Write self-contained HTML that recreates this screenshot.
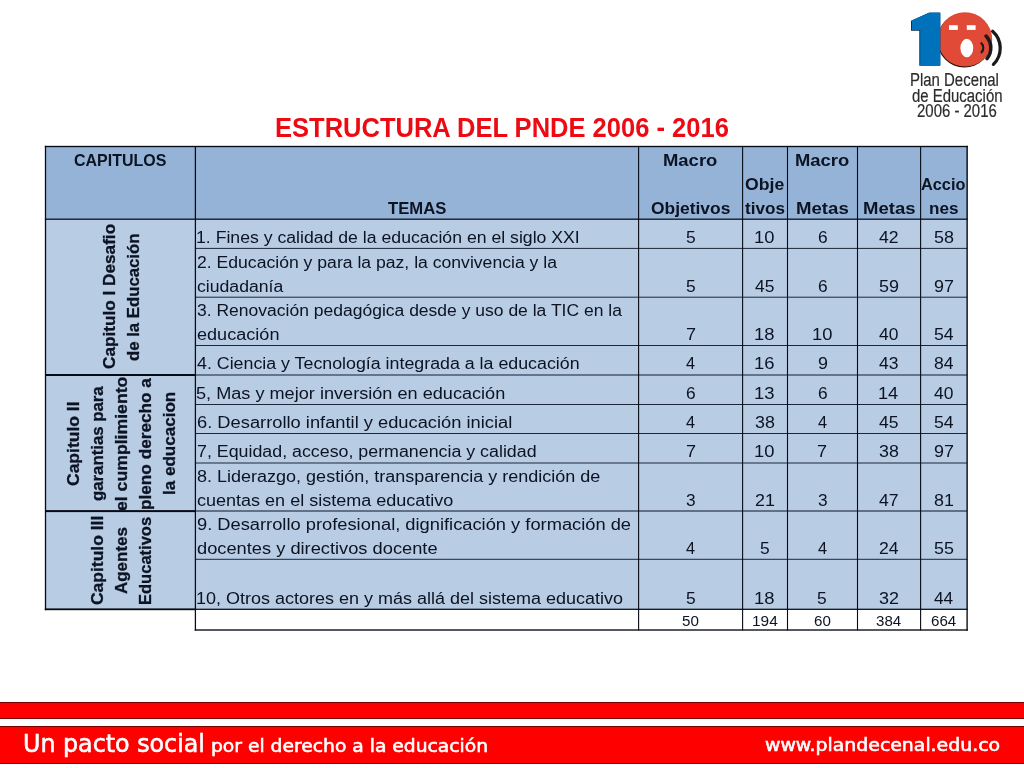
<!DOCTYPE html>
<html lang="es">
<head>
<meta charset="utf-8">
<title>Estructura del PNDE 2006 - 2016</title>
<style>
*{box-sizing:border-box}
html,body{margin:0;padding:0}
body{width:1024px;height:768px;overflow:hidden;background:#fff;position:relative;font-family:"Liberation Sans",sans-serif}
.slide{position:absolute;left:0;top:0;width:1024px;height:768px;overflow:hidden;background:transparent;will-change:transform}
.t{position:absolute;white-space:pre;line-height:1;transform-origin:0 0;display:block}
.title{font-weight:bold;color:#ee0a12}
.th,.ch{font-weight:bold;color:#0c1322}
.ch{-webkit-text-stroke:0.3px #0c1322}
.td,.num,.tot{color:#0c1322}
.lg{color:#2c2c2c;-webkit-text-stroke:0.2px #2c2c2c}
.ft{z-index:5;color:#fff;-webkit-text-stroke:0.6px #fff;font-family:"DejaVu Sans","Liberation Sans",sans-serif}
.cell{position:absolute}
.hd{background:#95b3d7}
.bd{background:#b8cce4}
.grid,.logo{position:absolute;left:0;top:0}
.bar{position:absolute;left:-1px;width:1024px;background:#fe0000;border:1px solid #7a0000}
</style>
</head>
<body>
<div class="slide">
<div class="tablebg">
<div class="cell hd" style="left:45px;top:146px;width:923px;height:73px"></div>
<div class="cell bd" style="left:45px;top:219px;width:923px;height:390px"></div>
</div>
<svg class="grid" width="1024" height="768" viewBox="0 0 1024 768"><rect x="195.4" y="247.90" width="771.70" height="1.0" fill="#1d2739"/><rect x="195.4" y="296.70" width="771.70" height="1.0" fill="#1d2739"/><rect x="195.4" y="345.00" width="771.70" height="1.0" fill="#1d2739"/><rect x="195.4" y="404.00" width="771.70" height="1.0" fill="#1d2739"/><rect x="195.4" y="433.00" width="771.70" height="1.0" fill="#1d2739"/><rect x="195.4" y="462.50" width="771.70" height="1.0" fill="#1d2739"/><rect x="195.4" y="558.80" width="771.70" height="1.0" fill="#1d2739"/><rect x="195.4" y="374.35" width="771.70" height="1.3" fill="#3a465c"/><rect x="195.4" y="510.45" width="771.70" height="1.1" fill="#1d2739"/><rect x="45.5" y="374.00" width="149.90" height="2.0" fill="#070b15"/><rect x="45.5" y="510.10" width="149.90" height="2.0" fill="#070b15"/><rect x="44.9" y="218.57" width="922.80" height="1.25" fill="#070b15"/><rect x="44.8" y="145.82" width="923.00" height="1.35" fill="#070b15"/><rect x="44.8" y="608.40" width="150.60" height="1.8" fill="#070b15"/><rect x="195.4" y="608.67" width="772.30" height="1.25" fill="#070b15"/><rect x="194.70000000000002" y="629.33" width="773.10" height="1.35" fill="#070b15"/><rect x="44.85" y="145.8" width="1.3" height="464.40" fill="#070b15"/><rect x="194.78" y="146.5" width="1.25" height="484.20" fill="#070b15"/><rect x="638.05" y="146.5" width="1.1" height="484.00" fill="#070b15"/><rect x="742.05" y="146.5" width="1.1" height="484.00" fill="#070b15"/><rect x="786.95" y="146.5" width="1.1" height="484.00" fill="#070b15"/><rect x="856.95" y="146.5" width="1.1" height="484.00" fill="#070b15"/><rect x="920.05" y="146.5" width="1.1" height="484.00" fill="#070b15"/><rect x="966.43" y="145.8" width="1.35" height="484.90" fill="#070b15"/></svg>
<svg class="logo" width="1024" height="130" viewBox="0 0 1024 130">
<circle cx="964.4" cy="40.3" r="27.2" fill="#1a0f0d"/>
<circle cx="965.0" cy="39.4" r="27.2" fill="#e04a36"/>
<path d="M940.3 12.8 L928.8 12.8 L911.0 20.8 L911.0 30.7 L919.3 30.7 L919.3 65.8 L940.3 65.8 Z" fill="#0c2a4a"/>
<path d="M940.3 12.6 L929.6 12.6 L911.9 20.6 L911.9 29.9 L920.2 29.9 L920.2 65.0 L940.3 65.0 Z" fill="#0072bc"/>
<rect x="949.0" y="25.2" width="8.8" height="4.7" fill="#fff"/>
<rect x="966.8" y="25.2" width="8.8" height="4.7" fill="#fff"/>
<ellipse cx="966.8" cy="48" rx="6.4" ry="9.3" fill="#fff"/>
<g fill="none" stroke="#1a1a1a" stroke-linecap="round">
<path d="M981.4 43.3 A6.7 6.7 0 0 1 981.6 52.2" stroke-width="2.3"/>
<path d="M986.0 36.0 A17 17 0 0 1 987.0 58.6" stroke-width="3.5"/>
<path d="M992.6 31.2 A22.7 22.7 0 0 1 993.4 64.4" stroke-width="3.2"/>
</g>
</svg>
<span class="t title" style="font-size:27.0px;left:274.93px;top:115px;transform:scaleX(0.9452)">ESTRUCTURA DEL PNDE 2006 - 2016</span>
<span class="t th" style="font-size:17.3px;left:74.32px;top:152px;transform:scaleX(0.9250)">CAPITULOS</span>
<span class="t th" style="font-size:17.3px;left:388.24px;top:200px;transform:scaleX(0.9652)">TEMAS</span>
<span class="t th" style="font-size:17.3px;left:663.07px;top:152px;transform:scaleX(1.0673)">Macro</span>
<span class="t th" style="font-size:17.3px;left:650.85px;top:200px;transform:scaleX(1.0077)">Objetivos</span>
<span class="t th" style="font-size:17.3px;left:745.04px;top:176px;transform:scaleX(1.0206)">Obje</span>
<span class="t th" style="font-size:17.3px;left:744.82px;top:200px;transform:scaleX(0.9903)">tivos</span>
<span class="t th" style="font-size:17.3px;left:794.87px;top:152px;transform:scaleX(1.0653)">Macro</span>
<span class="t th" style="font-size:17.3px;left:795.66px;top:200px;transform:scaleX(1.0766)">Metas</span>
<span class="t th" style="font-size:17.3px;left:862.66px;top:200px;transform:scaleX(1.0723)">Metas</span>
<span class="t th" style="font-size:17.3px;left:921.40px;top:176px;transform:scaleX(0.9430)">Accio</span>
<span class="t th" style="font-size:17.3px;left:928.77px;top:200px;transform:scaleX(0.9893)">nes</span>
<span class="t td" style="font-size:17.3px;left:196.01px;top:229px;transform:scaleX(1.0217)">1. Fines y calidad de la educación en el siglo XXI</span>
<span class="t td" style="font-size:17.3px;left:196.56px;top:254px;transform:scaleX(1.0182)">2. Educación y para la paz, la convivencia y la</span>
<span class="t td" style="font-size:17.3px;left:196.64px;top:278px;transform:scaleX(1.0207)">ciudadanía</span>
<span class="t td" style="font-size:17.3px;left:196.60px;top:302px;transform:scaleX(1.0128)">3. Renovación pedagógica desde y uso de la TIC en la</span>
<span class="t td" style="font-size:17.3px;left:196.62px;top:326px;transform:scaleX(1.0463)">educación</span>
<span class="t td" style="font-size:17.3px;left:196.95px;top:355px;transform:scaleX(1.0298)">4. Ciencia y Tecnología integrada a la educación</span>
<span class="t td" style="font-size:17.3px;left:196.47px;top:385px;transform:scaleX(1.0488)">5, Mas y mejor inversión en educación</span>
<span class="t td" style="font-size:17.3px;left:196.52px;top:414px;transform:scaleX(1.0588)">6. Desarrollo infantil y educación inicial</span>
<span class="t td" style="font-size:17.3px;left:196.54px;top:443px;transform:scaleX(1.0305)">7, Equidad, acceso, permanencia y calidad</span>
<span class="t td" style="font-size:17.3px;left:196.60px;top:468px;transform:scaleX(1.0419)">8. Liderazgo, gestión, transparencia y rendición de</span>
<span class="t td" style="font-size:17.3px;left:196.62px;top:492px;transform:scaleX(1.0425)">cuentas en el sistema educativo</span>
<span class="t td" style="font-size:17.3px;left:196.56px;top:516px;transform:scaleX(1.0582)">9. Desarrollo profesional, dignificación y formación de</span>
<span class="t td" style="font-size:17.3px;left:196.61px;top:540px;transform:scaleX(1.0566)">docentes y directivos docente</span>
<span class="t td" style="font-size:17.3px;left:195.99px;top:590px;transform:scaleX(1.0409)">10, Otros actores en y más allá del sistema educativo</span>
<span class="t num" style="font-size:17.3px;left:685.56px;top:229px;transform:scaleX(1.0083)">5</span>
<span class="t num" style="font-size:17.3px;left:754.46px;top:229px;transform:scaleX(1.0615)">10</span>
<span class="t num" style="font-size:17.3px;left:817.52px;top:229px;transform:scaleX(1.0036)">6</span>
<span class="t num" style="font-size:17.3px;left:879.45px;top:229px;transform:scaleX(1.0171)">42</span>
<span class="t num" style="font-size:17.3px;left:933.88px;top:229px;transform:scaleX(1.0376)">58</span>
<span class="t num" style="font-size:17.3px;left:685.56px;top:278px;transform:scaleX(1.0083)">5</span>
<span class="t num" style="font-size:17.3px;left:755.46px;top:278px;transform:scaleX(1.0105)">45</span>
<span class="t num" style="font-size:17.3px;left:817.52px;top:278px;transform:scaleX(1.0036)">6</span>
<span class="t num" style="font-size:17.3px;left:878.98px;top:278px;transform:scaleX(1.0399)">59</span>
<span class="t num" style="font-size:17.3px;left:933.98px;top:278px;transform:scaleX(1.0376)">97</span>
<span class="t num" style="font-size:17.3px;left:685.58px;top:326px;transform:scaleX(1.0442)">7</span>
<span class="t num" style="font-size:17.3px;left:754.45px;top:326px;transform:scaleX(1.0664)">18</span>
<span class="t num" style="font-size:17.3px;left:811.96px;top:326px;transform:scaleX(1.0615)">10</span>
<span class="t num" style="font-size:17.3px;left:879.46px;top:326px;transform:scaleX(1.0076)">40</span>
<span class="t num" style="font-size:17.3px;left:933.90px;top:326px;transform:scaleX(1.0234)">54</span>
<span class="t num" style="font-size:17.3px;left:686.04px;top:355px;transform:scaleX(0.9423)">4</span>
<span class="t num" style="font-size:17.3px;left:754.45px;top:355px;transform:scaleX(1.0664)">16</span>
<span class="t num" style="font-size:17.3px;left:817.53px;top:355px;transform:scaleX(1.0360)">9</span>
<span class="t num" style="font-size:17.3px;left:879.46px;top:355px;transform:scaleX(1.0120)">43</span>
<span class="t num" style="font-size:17.3px;left:934.02px;top:355px;transform:scaleX(1.0166)">84</span>
<span class="t num" style="font-size:17.3px;left:685.62px;top:385px;transform:scaleX(1.0036)">6</span>
<span class="t num" style="font-size:17.3px;left:754.45px;top:385px;transform:scaleX(1.0664)">13</span>
<span class="t num" style="font-size:17.3px;left:817.52px;top:385px;transform:scaleX(1.0036)">6</span>
<span class="t num" style="font-size:17.3px;left:878.47px;top:385px;transform:scaleX(1.0514)">14</span>
<span class="t num" style="font-size:17.3px;left:934.36px;top:385px;transform:scaleX(1.0076)">40</span>
<span class="t num" style="font-size:17.3px;left:686.04px;top:414px;transform:scaleX(0.9423)">4</span>
<span class="t num" style="font-size:17.3px;left:755.08px;top:414px;transform:scaleX(1.0323)">38</span>
<span class="t num" style="font-size:17.3px;left:817.94px;top:414px;transform:scaleX(0.9423)">4</span>
<span class="t num" style="font-size:17.3px;left:879.46px;top:414px;transform:scaleX(1.0105)">45</span>
<span class="t num" style="font-size:17.3px;left:933.90px;top:414px;transform:scaleX(1.0234)">54</span>
<span class="t num" style="font-size:17.3px;left:685.58px;top:443px;transform:scaleX(1.0442)">7</span>
<span class="t num" style="font-size:17.3px;left:754.46px;top:443px;transform:scaleX(1.0615)">10</span>
<span class="t num" style="font-size:17.3px;left:817.48px;top:443px;transform:scaleX(1.0442)">7</span>
<span class="t num" style="font-size:17.3px;left:879.08px;top:443px;transform:scaleX(1.0323)">38</span>
<span class="t num" style="font-size:17.3px;left:933.98px;top:443px;transform:scaleX(1.0376)">97</span>
<span class="t num" style="font-size:17.3px;left:685.66px;top:492px;transform:scaleX(0.9988)">3</span>
<span class="t num" style="font-size:17.3px;left:755.04px;top:492px;transform:scaleX(1.0378)">21</span>
<span class="t num" style="font-size:17.3px;left:817.56px;top:492px;transform:scaleX(0.9988)">3</span>
<span class="t num" style="font-size:17.3px;left:879.45px;top:492px;transform:scaleX(1.0171)">47</span>
<span class="t num" style="font-size:17.3px;left:934.01px;top:492px;transform:scaleX(1.0341)">81</span>
<span class="t num" style="font-size:17.3px;left:686.04px;top:540px;transform:scaleX(0.9423)">4</span>
<span class="t num" style="font-size:17.3px;left:759.96px;top:540px;transform:scaleX(1.0083)">5</span>
<span class="t num" style="font-size:17.3px;left:817.94px;top:540px;transform:scaleX(0.9423)">4</span>
<span class="t num" style="font-size:17.3px;left:879.06px;top:540px;transform:scaleX(1.0202)">24</span>
<span class="t num" style="font-size:17.3px;left:933.89px;top:540px;transform:scaleX(1.0359)">55</span>
<span class="t num" style="font-size:17.3px;left:685.56px;top:590px;transform:scaleX(1.0083)">5</span>
<span class="t num" style="font-size:17.3px;left:754.45px;top:590px;transform:scaleX(1.0664)">18</span>
<span class="t num" style="font-size:17.3px;left:817.46px;top:590px;transform:scaleX(1.0083)">5</span>
<span class="t num" style="font-size:17.3px;left:879.08px;top:590px;transform:scaleX(1.0376)">32</span>
<span class="t num" style="font-size:17.3px;left:934.36px;top:590px;transform:scaleX(0.9985)">44</span>
<span class="t tot" style="font-size:14.9px;left:681.96px;top:614px;transform:scaleX(1.0187)">50</span>
<span class="t tot" style="font-size:14.9px;left:751.71px;top:614px;transform:scaleX(1.0356)">194</span>
<span class="t tot" style="font-size:14.9px;left:813.92px;top:614px;transform:scaleX(1.0145)">60</span>
<span class="t tot" style="font-size:14.9px;left:876.22px;top:614px;transform:scaleX(1.0147)">384</span>
<span class="t tot" style="font-size:14.9px;left:931.10px;top:614px;transform:scaleX(1.0157)">664</span>
<span class="t ch" style="font-size:17.3px;left:100.96px;top:369.33px;transform:rotate(-90deg) scaleX(0.9944)">Capitulo I Desafio</span>
<span class="t ch" style="font-size:17.3px;left:124.66px;top:361.30px;transform:rotate(-90deg) scaleX(0.9687)">de la Educación</span>
<span class="t ch" style="font-size:17.3px;left:65.36px;top:485.54px;transform:rotate(-90deg) scaleX(1.0117)">Capitulo II</span>
<span class="t ch" style="font-size:17.3px;left:89.16px;top:501.40px;transform:rotate(-90deg) scaleX(0.9708)">garantias para</span>
<span class="t ch" style="font-size:17.3px;left:112.96px;top:510.51px;transform:rotate(-90deg) scaleX(1.0214)">el cumplimiento</span>
<span class="t ch" style="font-size:17.3px;left:136.76px;top:510.04px;transform:rotate(-90deg) scaleX(0.9953)">pleno derecho a</span>
<span class="t ch" style="font-size:17.3px;left:160.56px;top:495.37px;transform:rotate(-90deg) scaleX(0.9864)">la educacion</span>
<span class="t ch" style="font-size:17.3px;left:88.96px;top:604.94px;transform:rotate(-90deg) scaleX(1.0113)">Capitulo III</span>
<span class="t ch" style="font-size:17.3px;left:112.86px;top:594.22px;transform:rotate(-90deg) scaleX(0.9819)">Agentes</span>
<span class="t ch" style="font-size:17.3px;left:136.66px;top:604.59px;transform:rotate(-90deg) scaleX(0.9557)">Educativos</span>
<span class="t lg" style="font-size:18px;left:910.25px;top:71px;transform:scaleX(0.8303)">Plan Decenal</span>
<span class="t lg" style="font-size:18px;left:912.17px;top:87px;transform:scaleX(0.8296)">de Educación</span>
<span class="t lg" style="font-size:18px;left:917.06px;top:102px;transform:scaleX(0.8308)">2006 - 2016</span>
<span class="t ft" style="font-size:24.9px;left:22.85px;top:732px;transform:scaleX(0.9550)">Un pacto social</span>
<span class="t ft" style="font-size:18.2px;left:210.69px;top:737px;transform:scaleX(1.0285)">por el derecho a la educación</span>
<span class="t ft" style="font-size:17.9px;left:765.03px;top:736px;transform:scaleX(1.0546)">www.plandecenal.edu.co</span>
<div class="bar" style="top:702px;height:17px;width:1026px"></div>
<div class="bar" style="top:726px;height:38px;width:1026px"></div>
</div>
</body>
</html>
